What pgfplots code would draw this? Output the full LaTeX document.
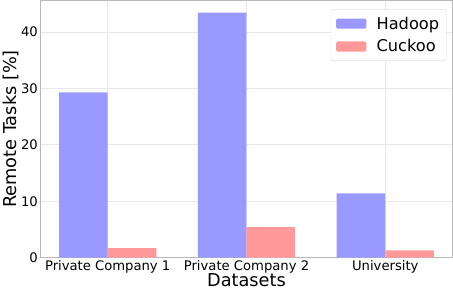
\documentclass[border=0pt]{standalone}
\usepackage{pgfplots}
\pgfplotsset{compat=1.18}
\usepackage{fontspec}
\setmainfont{DejaVu Sans}
\definecolor{hadoop}{HTML}{9999FF}
\definecolor{cuckoo}{HTML}{FF9999}
\begin{document}
\begin{tikzpicture}
\begin{axis}[
  scale only axis, width=407pt, height=254pt,
  xmin=-0.485, xmax=2.485, ymin=0, ymax=45.57,
  xtick={0,1,2}, xticklabels={Private Company 1, Private Company 2, University},
  ytick={0,10,20,30,40},
  /pgf/number format/assume math mode=true,
  ticklabel style={font=\fontsize{13}{13}\selectfont},
  xticklabel style={yshift=1pt},
  yticklabel style={xshift=1pt},
  xlabel={Datasets}, ylabel={Remote Tasks [\%]},
  label style={font=\fontsize{17.5}{17.5}\selectfont},
  xlabel style={yshift=6pt},
  ylabel style={yshift=-5pt},
  grid=major, grid style={gray!18, line width=0.6pt},
  axis line style={gray!55, line width=0.8pt},
  major tick length=0pt,
  legend style={at={(0.985,0.965)}, anchor=north east, draw=gray!25, rounded corners=2pt,
    font=\fontsize{16}{16}\selectfont, row sep=5pt, inner xsep=5pt, inner ysep=5pt},
  legend cell align=left,
  legend image code/.code={\fill[#1] (0pt,-5pt) rectangle (30pt,5pt); \path (38pt,0pt);},
]
\addplot[ybar, bar width=0.35, bar shift=-0.175, fill=hadoop, draw=none] coordinates {(0,29.3) (1,43.4) (2,11.4)};
\addlegendentry{Hadoop}
\addplot[ybar, bar width=0.35, bar shift=0.175, fill=cuckoo, draw=none] coordinates {(0,1.7) (1,5.4) (2,1.3)};
\addlegendentry{Cuckoo}
\end{axis}
\end{tikzpicture}
\end{document}
